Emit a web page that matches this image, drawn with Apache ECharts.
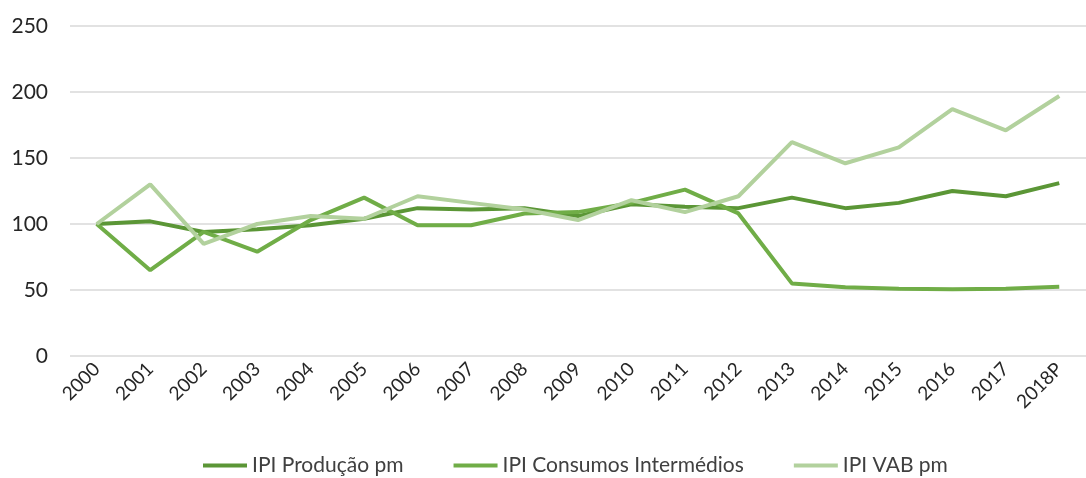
<!DOCTYPE html>
<html>
<head>
<meta charset="utf-8">
<script src="https://cdn.jsdelivr.net/npm/echarts@6/dist/echarts.min.js"></script>
<style>
html, body { margin: 0; padding: 0; background: #fff; }
#container { width: 1086px; height: 478px; }
</style>
</head>
<body>
<div id="container"></div>
<script>
var anos = ['2000','2001','2002','2003','2004','2005','2006','2007','2008','2009',
	'2010','2011','2012','2013','2014','2015','2016','2017','2018P'];
var producao = [100, 102, 94, 96, 99, 104, 112, 111, 112, 106, 115, 113, 112, 120, 112, 116, 125, 121, 131];
var consumos = [100, 65, 94, 79, 103, 120, 99, 99, 108, 109, 116, 126, 108, 55, 52, 51, 50.5, 51, 52.5];
var vab = [100, 130, 85, 100, 106, 104, 121, 116, 111, 103, 118, 109, 121, 162, 146, 158, 187, 171, 197];

function main() {
	var dom = document.getElementById("container");
	var myChart = echarts.init(dom);
	var fonte = 'Lato, "Open Sans", sans-serif';
	var option = {
		animation: false,
		color: ['#5b9636', '#70ad47', '#b2d19d'],
		grid: {
			left: 70,
			right: -13,
			top: 26,
			bottom: 122
		},
		legend: {
			left: 198,
			top: 450,
			itemWidth: 44,
			itemHeight: 4,
			itemGap: 50,
			icon: 'rect',
			textStyle: { fontFamily: fonte, fontSize: 21, color: '#404040' },
			data: ['IPI Produção pm', 'IPI Consumos Intermédios', 'IPI VAB pm']
		},
		xAxis: {
			type: 'category',
			boundaryGap: true,
			data: anos,
			axisLine: { show: false },
			axisTick: { show: false },
			axisLabel: {
				rotate: 45,
				interval: 0,
				margin: 10,
				fontFamily: fonte,
				fontSize: 19,
				color: '#262626'
			}
		},
		yAxis: {
			type: 'value',
			min: 0,
			max: 250,
			interval: 50,
			axisLine: { show: false },
			axisTick: { show: false },
			axisLabel: { margin: 22, fontFamily: fonte, fontSize: 21, color: '#262626' },
			splitLine: { lineStyle: { color: '#d9d9d9', width: 1.5 } }
		},
		series: [
			{ name: 'IPI Produção pm', type: 'line', data: producao, symbol: 'none', lineStyle: { width: 4 } },
			{ name: 'IPI Consumos Intermédios', type: 'line', data: consumos, symbol: 'none', lineStyle: { width: 4 } },
			{ name: 'IPI VAB pm', type: 'line', data: vab, symbol: 'none', lineStyle: { width: 4 } }
		]
	};
	myChart.setOption(option, true);
}
main();
</script>
</body>
</html>
